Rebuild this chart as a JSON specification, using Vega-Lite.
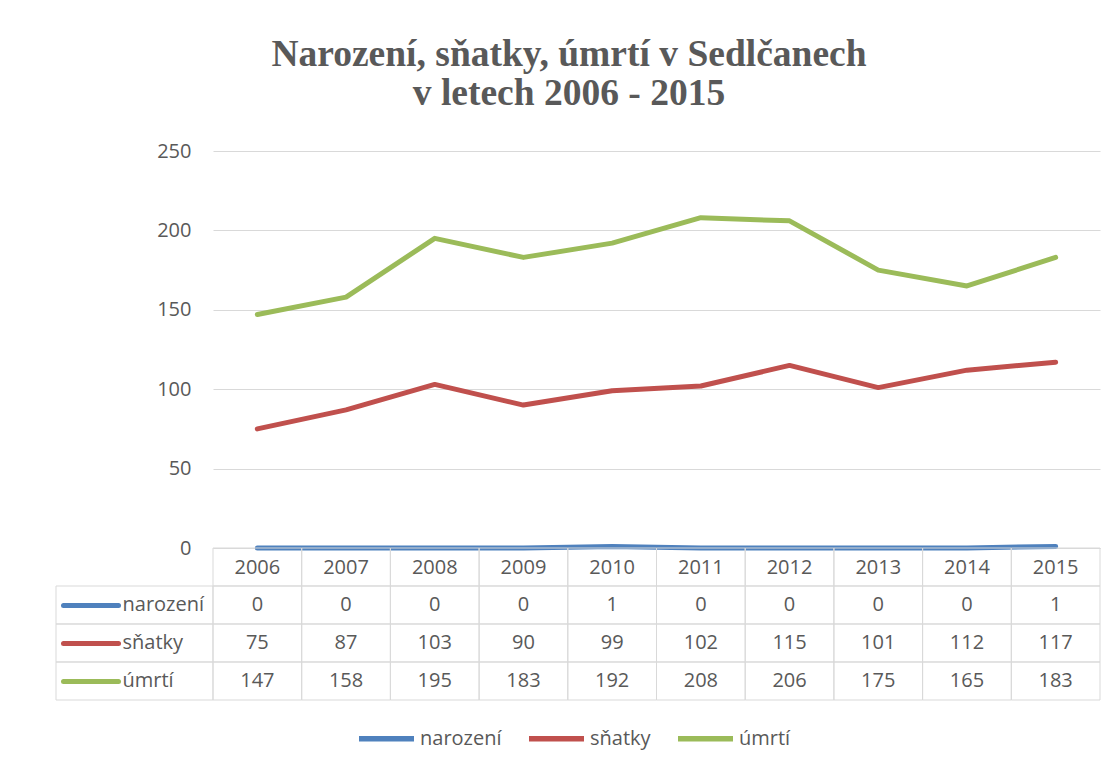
{
  "$schema": "https://vega.github.io/schema/vega-lite/v6.json",
  "background": "white",
  "padding": {"left": 55, "top": 35, "right": 18, "bottom": 10},
  "title": {
    "text": ["Narození, sňatky, úmrtí v Sedlčanech", "v letech 2006 - 2015"],
    "font": "Liberation Serif",
    "fontSize": 37.5,
    "fontWeight": "bold",
    "color": "#595959",
    "anchor": "start",
    "align": "center",
    "frame": "group",
    "lineHeight": 39.5,
    "offset": 28.5,
    "dx": 513
  },
  "config": {
    "view": {"stroke": null},
    "font": "Open Sans",
    "axis": {"labelFont": "Open Sans", "labelFontSize": 20, "labelColor": "#595959", "title": null},
    "legend": {
      "orient": "none",
      "legendX": 300,
      "legendY": 557,
      "direction": "horizontal",
      "title": null,
      "symbolType": "stroke",
      "symbolSize": 3025,
      "symbolStrokeWidth": 5.5,
      "labelFont": "Open Sans",
      "labelFontSize": 20,
      "labelColor": "#595959",
      "columnPadding": 16,
      "labelOffset": 3
    }
  },
  "datasets": {
    "vals": [
      {"year": "2006", "series": "narození", "value": 0},
      {"year": "2007", "series": "narození", "value": 0},
      {"year": "2008", "series": "narození", "value": 0},
      {"year": "2009", "series": "narození", "value": 0},
      {"year": "2010", "series": "narození", "value": 1},
      {"year": "2011", "series": "narození", "value": 0},
      {"year": "2012", "series": "narození", "value": 0},
      {"year": "2013", "series": "narození", "value": 0},
      {"year": "2014", "series": "narození", "value": 0},
      {"year": "2015", "series": "narození", "value": 1},
      {"year": "2006", "series": "sňatky", "value": 75},
      {"year": "2007", "series": "sňatky", "value": 87},
      {"year": "2008", "series": "sňatky", "value": 103},
      {"year": "2009", "series": "sňatky", "value": 90},
      {"year": "2010", "series": "sňatky", "value": 99},
      {"year": "2011", "series": "sňatky", "value": 102},
      {"year": "2012", "series": "sňatky", "value": 115},
      {"year": "2013", "series": "sňatky", "value": 101},
      {"year": "2014", "series": "sňatky", "value": 112},
      {"year": "2015", "series": "sňatky", "value": 117},
      {"year": "2006", "series": "úmrtí", "value": 147},
      {"year": "2007", "series": "úmrtí", "value": 158},
      {"year": "2008", "series": "úmrtí", "value": 195},
      {"year": "2009", "series": "úmrtí", "value": 183},
      {"year": "2010", "series": "úmrtí", "value": 192},
      {"year": "2011", "series": "úmrtí", "value": 208},
      {"year": "2012", "series": "úmrtí", "value": 206},
      {"year": "2013", "series": "úmrtí", "value": 175},
      {"year": "2014", "series": "úmrtí", "value": 165},
      {"year": "2015", "series": "úmrtí", "value": 183}
    ],
    "series": [
      {"series": "narození"},
      {"series": "sňatky"},
      {"series": "úmrtí"}
    ]
  },
  "spacing": 0,
  "bounds": "flush",
  "columns": 2,
  "concat": [
    {"width": 157, "height": 397, "data": {"values": []}, "mark": "point"},
    {
      "width": 887,
      "height": 397,
      "data": {"name": "vals"},
      "mark": {"type": "line", "strokeWidth": 5, "strokeCap": "round", "strokeJoin": "round"},
      "encoding": {
        "x": {
          "field": "year", "type": "ordinal",
          "scale": {"type": "band", "paddingInner": 0, "paddingOuter": 0},
          "axis": {"labelAngle": 0, "ticks": false, "domainColor": "#D9D9D9", "labelPadding": 19, "labelBaseline": "middle", "grid": false}
        },
        "y": {
          "field": "value", "type": "quantitative",
          "scale": {"domain": [0, 250], "nice": false},
          "axis": {"values": [0, 50, 100, 150, 200, 250], "ticks": false, "domain": false, "gridColor": "#D9D9D9", "labelPadding": 22}
        },
        "color": {
          "field": "series", "type": "nominal",
          "scale": {"domain": ["narození", "sňatky", "úmrtí"], "range": ["#4F81BD", "#C0504D", "#9BBB59"]}
        }
      }
    },
    {
      "width": 157,
      "height": 152,
      "data": {"name": "series"},
      "mark": {"type": "rect", "fill": "transparent", "stroke": "#D9D9D9", "strokeWidth": 1},
      "encoding": {
        "y": {
          "field": "series", "type": "nominal",
          "scale": {"domain": ["hdr", "narození", "sňatky", "úmrtí"], "paddingInner": 0, "paddingOuter": 0},
          "axis": {
            "values": ["narození", "sňatky", "úmrtí"],
            "orient": "left",
            "offset": -62,
            "domain": false,
            "grid": false,
            "tickSize": 55,
            "tickWidth": 5,
            "tickCap": "round",
            "tickColor": {"condition": [{"test": "datum.value === 'narození'", "value": "#4F81BD"}, {"test": "datum.value === 'sňatky'", "value": "#C0504D"}], "value": "#9BBB59"},
            "labelAlign": "left",
            "labelPadding": -59,
            "zindex": 1
          }
        }
      }
    },
    {
      "width": 887,
      "height": 152,
      "data": {"name": "vals"},
      "layer": [
        {
          "mark": {"type": "rect", "fill": "transparent", "stroke": "#D9D9D9", "strokeWidth": 1},
          "encoding": {
            "x": {"field": "year", "type": "ordinal", "scale": {"type": "band", "paddingInner": 0, "paddingOuter": 0}, "axis": null},
            "y": {"field": "series", "type": "nominal", "scale": {"domain": ["hdr", "narození", "sňatky", "úmrtí"], "paddingInner": 0, "paddingOuter": 0}, "axis": null}
          }
        },
        {
          "transform": [{"filter": "datum.series === 'narození'"}],
          "mark": {"type": "rect", "fill": "transparent", "stroke": "#D9D9D9", "strokeWidth": 1},
          "encoding": {
            "x": {"field": "year", "type": "ordinal", "axis": null},
            "y": {"datum": "hdr", "type": "nominal", "axis": null}
          }
        },
        {
          "mark": {"type": "text", "fontSize": 20, "color": "#595959", "font": "Open Sans"},
          "encoding": {
            "x": {"field": "year", "type": "ordinal", "axis": null},
            "y": {"field": "series", "type": "nominal", "axis": null},
            "text": {"field": "value", "type": "quantitative"}
          }
        }
      ]
    }
  ]
}
